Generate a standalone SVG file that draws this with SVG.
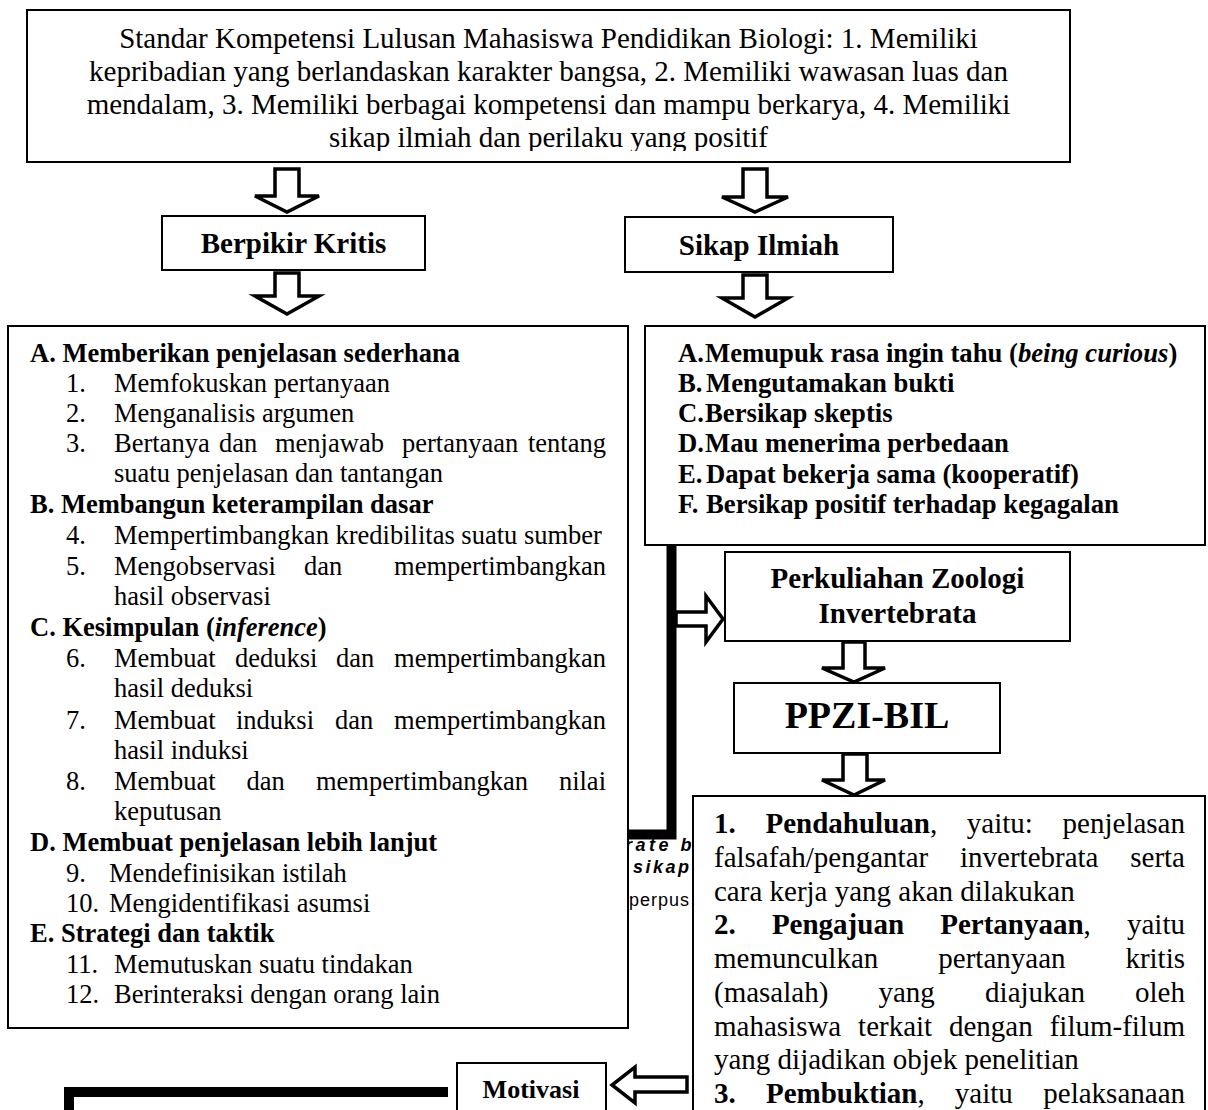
<svg xmlns="http://www.w3.org/2000/svg" width="1208" height="1110" viewBox="0 0 1208 1110">
<style>
.box{fill:#fff;stroke:#000;stroke-width:2}
.t{font-family:"Liberation Serif","Times New Roman",serif;fill:#000}
.b{font-weight:bold}
.i{font-style:italic}
.s29{font-size:29px}
.s26{font-size:26.5px}
.s27{font-size:26.7px}
.s38{font-size:38px}
.mid{text-anchor:middle}
.end{text-anchor:end}
.arrow{fill:#fff;stroke:#000;stroke-width:3.5;stroke-linejoin:miter}
.thick{fill:none;stroke:#000;stroke-width:10;stroke-linejoin:miter}
.ghost{font-family:"Liberation Sans",Arial,sans-serif;font-size:18px;fill:#000}
</style>
<defs>
<clipPath id="topclip"><rect x="27" y="10" width="1043" height="141"/></clipPath>
</defs>
<rect width="1208" height="1110" fill="#fff"/>

<g id="caption-fragments">
<text class="ghost" x="625" y="851" font-weight="bold" font-style="italic" letter-spacing="3.5">rate b</text>
<text class="ghost" x="633" y="872.5" font-weight="bold" font-style="italic" letter-spacing="2.5">sikap</text>
<text class="ghost" x="629" y="906" letter-spacing="1">perpus</text>
</g>

<g id="connectors">
<polygon class="arrow" points="275,169 299,169 299,196 319,196 287,212 255,196 275,196"/>
<polygon class="arrow" points="743,169 767,169 767,197 788,197 755,212 722,197 743,197"/>
<polygon class="arrow" points="275,273 299,273 299,296 319,296 287,314 255,296 275,296"/>
<polygon class="arrow" points="743,275 767,275 767,298 788,298 755,317 722,298 743,298"/>
<path class="thick" d="M671.5,545 V834.5 H628"/>
<polygon class="arrow" points="676,612 706,612 706,596 723,619 706,642 706,626 676,626"/>
<polygon class="arrow" points="843,642 865,642 865,668 885,668 854,682 822,668 843,668"/>
<polygon class="arrow" points="843,754 867,754 867,780 885,780 854,795 822,780 843,780"/>
<polygon class="arrow" points="687,1077 635,1077 635,1067 612,1085 635,1103 635,1092 687,1092"/>
<path class="thick" d="M448,1092 H69 V1120"/>
</g>

<g id="node-standar">
<rect class="box" x="27" y="10" width="1043" height="152"/>
<g clip-path="url(#topclip)">
<text class="t s29 mid" x="548.5" y="48">Standar Kompetensi Lulusan Mahasiswa Pendidikan Biologi: 1. Memiliki</text>
<text class="t s29 mid" x="548.5" y="81">kepribadian yang berlandaskan karakter bangsa, 2. Memiliki wawasan luas dan</text>
<text class="t s29 mid" x="548.5" y="114">mendalam, 3. Memiliki berbagai kompetensi dan mampu berkarya, 4. Memiliki</text>
<text class="t s29 mid" x="548.5" y="147">sikap ilmiah dan perilaku yang positif</text>
</g>
</g>

<g id="node-berpikir">
<rect class="box" x="162" y="216" width="263" height="54"/>
<text class="t b s29 mid" x="293.5" y="253">Berpikir Kritis</text>
</g>

<g id="node-sikap">
<rect class="box" x="625" y="217" width="268" height="55"/>
<text class="t b s29 mid" x="759" y="255">Sikap Ilmiah</text>
</g>

<g id="node-berpikir-list">
<rect class="box" x="8" y="326" width="620" height="702"/>
<text class="t b s26" x="30" y="362">A. Memberikan penjelasan sederhana</text>
<text class="t s26" x="66" y="392">1.</text><text class="t s26" x="114" y="392">Memfokuskan pertanyaan</text>
<text class="t s26" x="66" y="422">2.</text><text class="t s26" x="114" y="422">Menganalisis argumen</text>
<text class="t s26" x="66" y="452">3.</text>
<text class="t s26" y="452"><tspan x="114">Bertanya</tspan><tspan x="219">dan</tspan><tspan x="275">menjawab</tspan><tspan x="402">pertanyaan</tspan></text>
<text class="t s26 end" x="606" y="452">tentang</text>
<text class="t s26" x="114" y="482">suatu penjelasan dan tantangan</text>
<text class="t b s26" x="30" y="513">B. Membangun keterampilan dasar</text>
<text class="t s26" x="66" y="544">4.</text><text class="t s26" x="114" y="544">Mempertimbangkan kredibilitas suatu sumber</text>
<text class="t s26" x="66" y="575">5.</text>
<text class="t s26" y="575"><tspan x="114">Mengobservasi</tspan><tspan x="304">dan</tspan></text>
<text class="t s26 end" x="606" y="575">mempertimbangkan</text>
<text class="t s26" x="114" y="605">hasil observasi</text>
<text class="t b s26" x="30" y="636">C. Kesimpulan (<tspan class="i">inference</tspan>)</text>
<text class="t s26" x="66" y="667">6.</text>
<text class="t s26" y="667"><tspan x="114">Membuat</tspan><tspan x="235">deduksi</tspan><tspan x="336">dan</tspan></text>
<text class="t s26 end" x="606" y="667">mempertimbangkan</text>
<text class="t s26" x="114" y="697">hasil deduksi</text>
<text class="t s26" x="66" y="729">7.</text>
<text class="t s26" y="729"><tspan x="114">Membuat</tspan><tspan x="236">induksi</tspan><tspan x="335">dan</tspan></text>
<text class="t s26 end" x="606" y="729">mempertimbangkan</text>
<text class="t s26" x="114" y="759">hasil induksi</text>
<text class="t s26" x="66" y="790">8.</text>
<text class="t s26" y="790"><tspan x="114">Membuat</tspan><tspan x="246.6">dan</tspan><tspan x="316">mempertimbangkan</tspan></text>
<text class="t s26 end" x="606" y="790">nilai</text>
<text class="t s26" x="114" y="820">keputusan</text>
<text class="t b s26" x="30" y="851">D. Membuat penjelasan lebih lanjut</text>
<text class="t s26" x="66" y="882">9.</text><text class="t s26" x="109" y="882">Mendefinisikan istilah</text>
<text class="t s26" x="66" y="912">10.</text><text class="t s26" x="109" y="912">Mengidentifikasi asumsi</text>
<text class="t b s26" x="30" y="942">E. Strategi dan taktik</text>
<text class="t s26" x="66" y="973">11.</text><text class="t s26" x="114" y="973">Memutuskan suatu tindakan</text>
<text class="t s26" x="66" y="1003">12.</text><text class="t s26" x="114" y="1003">Berinteraksi dengan orang lain</text>
</g>

<g id="node-sikap-list">
<rect class="box" x="645" y="326" width="560" height="219"/>
<text class="t b s27" x="678" y="362">A.</text><text class="t b s27" x="705" y="362">Memupuk rasa ingin tahu (<tspan class="i">being curious</tspan>)</text>
<text class="t b s27" x="678" y="392">B.</text><text class="t b s27" x="706" y="392">Mengutamakan bukti</text>
<text class="t b s27" x="678" y="422">C.</text><text class="t b s27" x="705" y="422">Bersikap skeptis</text>
<text class="t b s27" x="678" y="452">D.</text><text class="t b s27" x="705" y="452">Mau menerima perbedaan</text>
<text class="t b s27" x="678" y="483">E.</text><text class="t b s27" x="706" y="483">Dapat bekerja sama (kooperatif)</text>
<text class="t b s27" x="678" y="513">F.</text><text class="t b s27" x="706" y="513">Bersikap positif terhadap kegagalan</text>
</g>

<g id="node-perkuliahan">
<rect class="box" x="725" y="552" width="345" height="89"/>
<text class="t b s29 mid" x="897.5" y="588">Perkuliahan Zoologi</text>
<text class="t b s29 mid" x="897.5" y="623">Invertebrata</text>
</g>

<g id="node-ppzi">
<rect class="box" x="734" y="683" width="266" height="70"/>
<text class="t b s38 mid" x="867" y="728">PPZI-BIL</text>
</g>

<g id="node-sintaks">
<rect class="box" x="693" y="796" width="512" height="340"/>
<text class="t s29" y="833"><tspan class="b" x="714">1.</tspan><tspan class="b" x="765.5">Pendahuluan</tspan><tspan>,</tspan><tspan x="966.8">yaitu:</tspan></text>
<text class="t s29 end" x="1185" y="833">penjelasan</text>
<text class="t s29" y="867"><tspan x="714">falsafah/pengantar</tspan><tspan x="960">invertebrata</tspan></text>
<text class="t s29 end" x="1185" y="867">serta</text>
<text class="t s29" x="714" y="901">cara kerja yang akan dilakukan</text>
<text class="t s29" y="934"><tspan class="b" x="714">2.</tspan><tspan class="b" x="771.9">Pengajuan</tspan><tspan class="b" x="940.2">Pertanyaan</tspan><tspan>,</tspan></text>
<text class="t s29 end" x="1185" y="934">yaitu</text>
<text class="t s29" y="968"><tspan x="714">memunculkan</tspan><tspan x="938.3">pertanyaan</tspan></text>
<text class="t s29 end" x="1185" y="968">kritis</text>
<text class="t s29" y="1002"><tspan x="714">(masalah)</tspan><tspan x="878.5">yang</tspan><tspan x="985.1">diajukan</tspan></text>
<text class="t s29 end" x="1185" y="1002">oleh</text>
<text class="t s29" y="1036"><tspan x="714">mahasiswa</tspan><tspan x="858.1">terkait</tspan><tspan x="949">dengan</tspan></text>
<text class="t s29 end" x="1185" y="1036">filum-filum</text>
<text class="t s29" x="714" y="1069">yang dijadikan objek penelitian</text>
<text class="t s29" y="1103"><tspan class="b" x="714">3.</tspan><tspan class="b" x="766">Pembuktian</tspan><tspan>,</tspan><tspan x="954.8">yaitu</tspan></text>
<text class="t s29 end" x="1185" y="1103">pelaksanaan</text>
</g>

<g id="node-motivasi">
<rect class="box" x="457" y="1063" width="149" height="70"/>
<text class="t b mid" style="font-size:26px" x="531" y="1098">Motivasi</text>
</g>
</svg>
